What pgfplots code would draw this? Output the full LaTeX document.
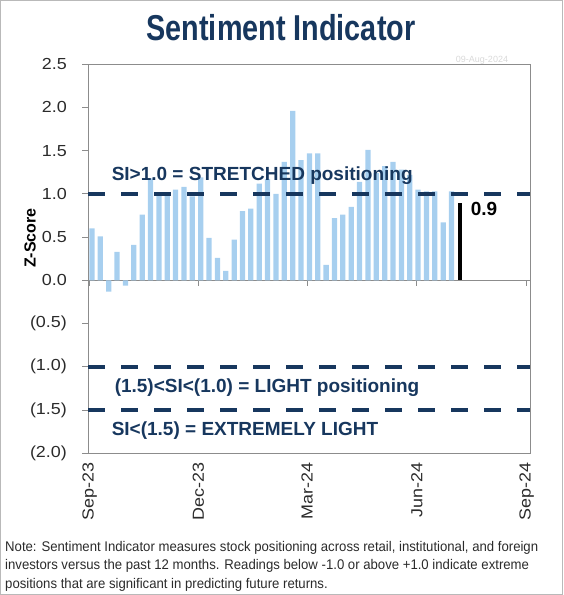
\documentclass[border=0pt]{standalone}
\usepackage{fontspec}
\setmainfont{Liberation Sans}
\newfontfamily\narrowfont[FakeStretch=0.80]{Liberation Sans}
\newfontfamily\notefont[FakeStretch=0.94]{Liberation Sans}
\newfontfamily\widefont[FakeStretch=1.12]{Liberation Sans}
\usepackage{pgfplots}
\pgfplotsset{compat=1.18}
\definecolor{navy}{HTML}{17375E}
\definecolor{barblue}{HTML}{A7CFEF}
\definecolor{framegray}{HTML}{8C8C8C}
\definecolor{txt}{HTML}{2B2B2B}
\begin{document}
\begin{tikzpicture}[x=1pt,y=1pt]
\useasboundingbox (0,0) rectangle (563,595);
\draw[gray!55, line width=1pt] (0.5,0.5) rectangle (562.5,594.5);
\node[anchor=base, text=navy, font=\narrowfont\bfseries\fontsize{36}{40}\selectfont, inner sep=0] at (281,554) {Sentiment Indicator};
\node[text=gray!30, font=\fontsize{9}{10}\selectfont, inner sep=0] at (482,535) {09-Aug-2024};
\begin{axis}[
  at={(74,164)}, anchor=south west, scale only axis,
  width=442pt, height=389pt,
  xmin=-1, xmax=369, ymin=-2, ymax=2.5,
  axis line style={framegray, line width=1.1pt},
  xtick={0,91,182,274,366},
  xticklabels={Sep-23,Dec-23,Mar-24,Jun-24,Sep-24},
  x tick label style={rotate=90, anchor=east, font=\widefont\fontsize{16}{18}\selectfont, text=txt},
  xtick style={draw=none},
  ytick={-2,-1.5,-1,-0.5,0,0.5,1,1.5,2,2.5},
  yticklabels={(2.0),(1.5),(1.0),(0.5),0.0,0.5,1.0,1.5,2.0,2.5},
  y tick label style={font=\widefont\fontsize{16}{18}\selectfont, text=txt, xshift=-12pt},
  /pgf/number format/assume math mode=true,
  tick align=outside, major tick length=6pt,
  ytick style={framegray, line width=1pt},
  tick pos=left,
  clip=false,
]
\addplot[framegray, line width=1pt] coordinates {(-1,0) (369,0)};
\addplot[ycomb, framegray, line width=1pt, mark=none] coordinates {(0,-0.07) (91,-0.07) (182,-0.07) (274,-0.07) (366,-0.07)};
\addplot[ybar, bar shift=0pt, bar width=4.4, fill=barblue, draw=none] coordinates {
(2,0.60) (9,0.51) (16,-0.13) (23,0.33) (30,-0.06) (37,0.41) (44,0.76) (51,1.18)
(58,0.98) (65,1.02) (72,1.05) (79,1.08) (86,0.97) (93,1.19) (100,0.49) (107,0.26)
(114,0.11) (121,0.47) (128,0.80) (135,0.83) (142,1.12) (149,1.17) (156,1.00) (163,1.37)
(170,1.96) (177,1.39) (184,1.47) (191,1.47) (198,0.18) (205,0.72) (212,0.76) (219,0.85)
(226,1.14) (233,1.51) (240,1.24) (247,1.32) (254,1.37) (261,1.28) (268,1.22) (275,1.05)
(282,1.03) (289,1.03) (296,0.67) (303,1.03)
};
\addplot[ybar, bar shift=0pt, bar width=4, fill=black, draw=none] coordinates {(310,0.9)};
\addplot[navy, line width=4.5pt, dash pattern=on 17pt off 16pt] coordinates {(-1,1) (369,1)};
\addplot[navy, line width=4.5pt, dash pattern=on 17pt off 16pt] coordinates {(-1,-1) (369,-1)};
\addplot[navy, line width=4.5pt, dash pattern=on 17pt off 16pt] coordinates {(-1,-1.5) (369,-1.5)};
\node[anchor=base west, inner sep=0, font=\bfseries\fontsize{19}{22}\selectfont, text=navy] at (axis cs:18.4,1.16) {SI>1.0 = STRETCHED positioning};
\node[anchor=base west, inner sep=0, font=\bfseries\fontsize{19}{22}\selectfont, text=navy] at (axis cs:20.9,-1.30) {(1.5)<SI<(1.0) = LIGHT positioning};
\node[anchor=base west, inner sep=0, font=\bfseries\fontsize{19}{22}\selectfont, text=navy] at (axis cs:18.4,-1.80) {SI<(1.5) = EXTREMELY LIGHT};
\node[anchor=base west, inner sep=0, font=\bfseries\fontsize{19}{22}\selectfont, text=black] at (axis cs:319,0.747) {0.9};
\end{axis}
\node[rotate=90, font=\bfseries\fontsize{16}{18}\selectfont, text=black, inner sep=0] at (30,357) {Z-Score};
\node[anchor=base west, inner sep=0, font=\notefont\fontsize{14}{17}\selectfont, text=txt] at (5,43.4) {Note: Sentiment Indicator measures stock positioning across retail, institutional, and foreign};
\node[anchor=base west, inner sep=0, font=\notefont\fontsize{14}{17}\selectfont, text=txt] at (5,25) {investors versus the past 12 months. Readings below -1.0 or above +1.0 indicate extreme};
\node[anchor=base west, inner sep=0, font=\notefont\fontsize{14}{17}\selectfont, text=txt] at (5,6.4) {positions that are significant in predicting future returns.};
\end{tikzpicture}
\end{document}
